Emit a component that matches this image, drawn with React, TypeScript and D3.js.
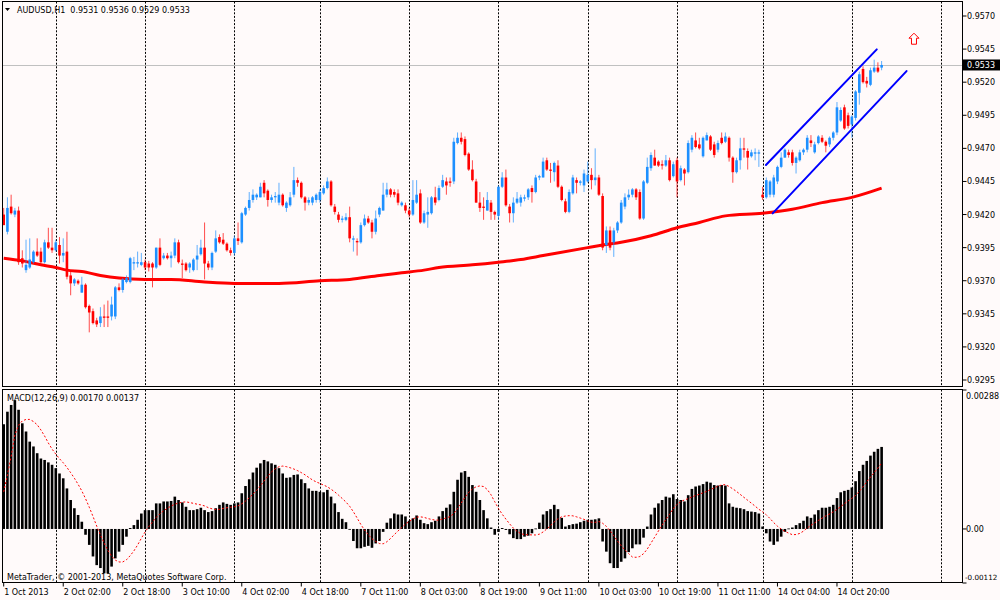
import React from "react";
import * as d3 from "d3";

// ---- AUDUSD H1 candles (prices in pips, value = pips / 10000) ----
const opens = [
  9420, 9407, 9426, 9420, 9423, 9387, 9378, 9380, 9384, 9392,
  9392, 9384, 9399, 9395, 9393, 9397, 9389, 9392, 9374, 9368,
  9370, 9361, 9367, 9351, 9347, 9340, 9338, 9343, 9343, 9343,
  9343, 9365, 9363, 9369, 9369, 9383, 9383, 9382, 9384, 9383,
  9383, 9380, 9395, 9387, 9389, 9387, 9389, 9399, 9383, 9383,
  9380, 9378, 9386, 9390, 9395, 9383, 9380, 9392, 9403, 9401,
  9398, 9393, 9391, 9402, 9399, 9420, 9425, 9431, 9433, 9433,
  9444, 9438, 9431, 9433, 9429, 9435, 9425, 9427, 9435, 9446,
  9444, 9433, 9429, 9429, 9431, 9431, 9436, 9440, 9445, 9426,
  9420, 9416, 9416, 9418, 9401, 9400, 9399, 9412, 9417, 9414,
  9407, 9420, 9423, 9435, 9439, 9437, 9436, 9427, 9427, 9423,
  9420, 9429, 9436, 9414, 9420, 9421, 9433, 9431, 9441, 9445,
  9445, 9445, 9474, 9478, 9477, 9466, 9454, 9445, 9429, 9426,
  9423, 9429, 9422, 9419, 9441, 9448, 9426, 9421, 9429, 9429,
  9432, 9433, 9440, 9437, 9448, 9448, 9461, 9454, 9452, 9457,
  9441, 9430, 9422, 9436, 9446, 9444, 9442, 9445, 9450, 9446,
  9448, 9434, 9397, 9408, 9399, 9408, 9414, 9426, 9433, 9435,
  9439, 9437, 9417, 9444, 9455, 9463, 9460, 9458, 9457, 9461,
  9449, 9461, 9446, 9454, 9452, 9469, 9476, 9473, 9464, 9476,
  9479, 9473, 9469, 9478, 9475, 9478, 9463, 9452, 9461, 9470,
  9468, 9464, 9466, 9466, 9435, 9433, 9435, 9435, 9445, 9456,
  9463, 9467, 9467, 9459, 9461, 9467, 9469, 9476, 9467, 9474,
  9478, 9475, 9473, 9478, 9482, 9491, 9501, 9495, 9488, 9493,
  9512, 9530, 9521, 9518, 9528, 9531, 9531,
];
const highs = [
  9425, 9433, 9435, 9425, 9426, 9393, 9401, 9402, 9393, 9402,
  9395, 9401, 9410, 9410, 9401, 9403, 9402, 9407, 9377, 9372,
  9371, 9373, 9368, 9352, 9349, 9342, 9350, 9352, 9355, 9358,
  9366, 9368, 9372, 9374, 9388, 9388, 9392, 9391, 9386, 9385,
  9384, 9395, 9402, 9391, 9391, 9392, 9402, 9401, 9386, 9384,
  9384, 9387, 9397, 9401, 9414, 9385, 9392, 9408, 9405, 9406,
  9399, 9395, 9404, 9414, 9422, 9426, 9437, 9439, 9436, 9444,
  9446, 9439, 9435, 9437, 9444, 9436, 9430, 9437, 9456, 9448,
  9445, 9434, 9433, 9434, 9436, 9439, 9442, 9448, 9446, 9428,
  9422, 9419, 9421, 9426, 9404, 9402, 9414, 9420, 9419, 9416,
  9423, 9426, 9444, 9444, 9440, 9439, 9439, 9430, 9429, 9425,
  9446, 9446, 9439, 9423, 9433, 9434, 9441, 9442, 9450, 9448,
  9448, 9478, 9482, 9482, 9479, 9467, 9461, 9447, 9437, 9433,
  9437, 9431, 9423, 9442, 9452, 9454, 9428, 9433, 9437, 9435,
  9435, 9440, 9442, 9450, 9450, 9463, 9463, 9459, 9460, 9461,
  9442, 9432, 9439, 9450, 9448, 9446, 9454, 9460, 9455, 9470,
  9450, 9436, 9411, 9411, 9410, 9415, 9431, 9436, 9439, 9440,
  9440, 9439, 9446, 9463, 9467, 9469, 9461, 9461, 9465, 9463,
  9460, 9463, 9457, 9455, 9476, 9480, 9482, 9478, 9479, 9482,
  9480, 9475, 9476, 9482, 9482, 9479, 9464, 9463, 9478, 9478,
  9470, 9469, 9470, 9469, 9441, 9448, 9446, 9450, 9457, 9467,
  9470, 9469, 9469, 9464, 9469, 9470, 9480, 9480, 9475, 9480,
  9480, 9476, 9479, 9483, 9505, 9501, 9503, 9497, 9495, 9514,
  9528, 9532, 9524, 9531, 9537, 9535, 9536,
];
const lows = [
  9412, 9405, 9420, 9418, 9382, 9380, 9376, 9379, 9383, 9388,
  9383, 9383, 9394, 9391, 9392, 9383, 9384, 9371, 9359, 9366,
  9367, 9361, 9349, 9331, 9337, 9335, 9335, 9335, 9335, 9340,
  9341, 9362, 9361, 9368, 9368, 9378, 9380, 9381, 9378, 9377,
  9365, 9379, 9381, 9386, 9386, 9380, 9387, 9383, 9372, 9377,
  9376, 9377, 9378, 9389, 9371, 9378, 9378, 9391, 9398, 9397,
  9392, 9389, 9389, 9397, 9398, 9419, 9423, 9429, 9431, 9433,
  9433, 9426, 9429, 9429, 9427, 9426, 9422, 9426, 9433, 9441,
  9432, 9423, 9427, 9427, 9429, 9429, 9435, 9439, 9426, 9420,
  9414, 9414, 9415, 9399, 9392, 9389, 9398, 9411, 9413, 9402,
  9405, 9418, 9423, 9433, 9433, 9433, 9427, 9426, 9421, 9418,
  9419, 9428, 9413, 9413, 9410, 9420, 9427, 9430, 9440, 9435,
  9441, 9443, 9473, 9473, 9464, 9453, 9445, 9429, 9422, 9416,
  9423, 9416, 9416, 9416, 9440, 9426, 9414, 9414, 9428, 9426,
  9430, 9431, 9429, 9436, 9446, 9448, 9453, 9444, 9445, 9440,
  9430, 9421, 9421, 9435, 9436, 9442, 9437, 9444, 9439, 9442,
  9434, 9393, 9391, 9393, 9388, 9406, 9413, 9424, 9431, 9433,
  9431, 9416, 9416, 9443, 9453, 9457, 9456, 9454, 9456, 9445,
  9448, 9433, 9445, 9442, 9451, 9467, 9470, 9469, 9463, 9476,
  9468, 9463, 9467, 9473, 9474, 9460, 9444, 9451, 9454, 9463,
  9454, 9463, 9461, 9456, 9431, 9432, 9433, 9433, 9443, 9455,
  9463, 9463, 9457, 9451, 9460, 9465, 9467, 9471, 9466, 9473,
  9474, 9467, 9471, 9476, 9480, 9490, 9484, 9485, 9478, 9491,
  9503, 9519, 9516, 9517, 9527, 9527, 9529,
];
const closes = [
  9412, 9425, 9421, 9423, 9384, 9383, 9382, 9386, 9392, 9389,
  9384, 9399, 9395, 9393, 9399, 9389, 9391, 9373, 9368, 9371,
  9368, 9367, 9350, 9346, 9338, 9337, 9343, 9342, 9342, 9352,
  9365, 9363, 9371, 9372, 9387, 9384, 9384, 9384, 9380, 9380,
  9380, 9395, 9382, 9389, 9387, 9389, 9399, 9384, 9382, 9378,
  9383, 9386, 9389, 9395, 9383, 9380, 9391, 9402, 9399, 9398,
  9393, 9391, 9402, 9400, 9421, 9425, 9431, 9435, 9435, 9441,
  9436, 9431, 9433, 9434, 9435, 9427, 9429, 9433, 9446, 9444,
  9433, 9429, 9431, 9433, 9435, 9437, 9440, 9445, 9427, 9422,
  9416, 9417, 9418, 9402, 9402, 9399, 9412, 9417, 9414, 9407,
  9417, 9425, 9435, 9439, 9435, 9435, 9429, 9429, 9423, 9420,
  9431, 9435, 9414, 9421, 9422, 9433, 9429, 9440, 9446, 9442,
  9444, 9475, 9478, 9475, 9465, 9454, 9446, 9429, 9425, 9425,
  9431, 9422, 9420, 9441, 9448, 9427, 9421, 9429, 9432, 9433,
  9433, 9439, 9437, 9448, 9449, 9460, 9454, 9453, 9459, 9441,
  9431, 9422, 9437, 9448, 9444, 9445, 9451, 9450, 9446, 9448,
  9435, 9395, 9408, 9395, 9408, 9414, 9429, 9433, 9435, 9439,
  9433, 9417, 9445, 9456, 9465, 9457, 9457, 9457, 9461, 9446,
  9458, 9445, 9455, 9451, 9474, 9478, 9471, 9470, 9478, 9480,
  9469, 9465, 9474, 9474, 9479, 9463, 9452, 9461, 9470, 9469,
  9463, 9467, 9467, 9467, 9433, 9446, 9445, 9448, 9456, 9463,
  9469, 9465, 9459, 9463, 9467, 9469, 9478, 9474, 9473, 9479,
  9475, 9472, 9478, 9482, 9501, 9499, 9485, 9487, 9494, 9513,
  9526, 9520, 9519, 9529, 9531, 9528, 9533,
];

// ---- red moving average (sampled: bar index, price in pips) ----
const maBars = [0, 5, 10, 14, 17, 21, 26, 31, 38, 45, 54, 62, 74, 85, 93, 101, 107, 113, 117, 126, 133, 139, 145, 157, 161, 166, 174, 181, 187, 194, 204, 212, 220, 228, 236];
const maValues = [9387, 9385, 9382, 9380, 9378, 9377, 9374, 9372, 9371, 9371, 9369, 9368, 9368, 9370, 9371, 9374, 9376, 9378, 9380, 9382, 9384, 9386, 9389, 9395, 9397, 9399, 9404, 9410, 9414, 9419, 9421, 9424, 9429, 9433, 9440];

// ---- MACD(12,26,9) main values, in units of 0.00001 ----
const macdMain = [
  217, 243, 257, 267, 247, 219, 202, 181, 171, 157,
  146, 143, 138, 133, 126, 115, 105, 84, 60, 43,
  29, 15, -12, -33, -57, -75, -81, -92, -92, -78,
  -61, -47, -33, -16, 2, 8, 19, 32, 39, 39,
  39, 53, 53, 57, 57, 58, 67, 60, 55, 46,
  39, 39, 41, 44, 39, 35, 37, 43, 50, 55,
  52, 50, 53, 55, 74, 89, 103, 117, 127, 136,
  143, 140, 136, 133, 126, 115, 106, 107, 112, 113,
  103, 95, 84, 79, 79, 77, 76, 81, 67, 53,
  35, 21, 14, -1, -25, -40, -40, -37, -35, -39,
  -30, -25, -6, 13, 22, 32, 30, 30, 26, 17,
  22, 28, 19, 12, 10, 14, 17, 26, 37, 44,
  51, 77, 102, 117, 120, 108, 91, 77, 60, 39,
  22, 3, -12, -6, 2, -2, -11, -19, -21, -21,
  -16, -14, -9, 1, 13, 30, 37, 41, 50, 41,
  23, 5, 8, 10, 11, 14, 17, 19, 19, 20,
  22, -26, -47, -71, -81, -81, -68, -61, -48, -40,
  -32, -32, -18, 5, 30, 44, 53, 60, 67, 65,
  72, 62, 60, 57, 70, 83, 88, 90, 93, 98,
  96, 91, 90, 91, 90, 53, 46, 44, 43, 41,
  37, 36, 35, 32, 5, -9, -26, -33, -26, -16,
  -6, 1, 3, 8, 12, 17, 26, 23, 30, 39,
  44, 44, 46, 50, 64, 76, 79, 81, 86, 99,
  120, 133, 141, 152, 160, 166, 170,
];
// signal line for the first bars (its 9-bar window begins before the visible data)
const signalHead = [77, 112, 150, 195, 215, 224, 227, 227];
const SIGNAL_PERIOD = 9;

// ---- axes ----
const priceTicks = [0.957, 0.9545, 0.952, 0.9495, 0.947, 0.9445, 0.942, 0.9395, 0.937, 0.9345, 0.932, 0.9295];
const macdTicks = [0.00288, 0, -0.00112];
const macdTickText = ["0.00288", "0.00", "-0.00112"];
const timeLabelBars = [0, 16, 32, 48, 64, 80, 96, 112, 128, 144, 160, 176, 192, 208, 224];
const timeLabels = ["1 Oct 2013", "2 Oct 02:00", "2 Oct 18:00", "3 Oct 10:00", "4 Oct 02:00", "4 Oct 18:00", "7 Oct 11:00", "8 Oct 03:00", "8 Oct 19:00", "9 Oct 11:00", "10 Oct 03:00", "10 Oct 19:00", "11 Oct 11:00", "14 Oct 04:00", "14 Oct 20:00"];
const dayStartBars = [14, 38, 62, 85, 109, 133, 157, 181, 204, 228, 252];

// ---- drawn objects (bar index, price) ----
const channelUpper = [[204.9, 0.94574], [234.7, 0.95448]];
const channelLower = [[206.7, 0.94209], [242.7, 0.95284]];
const arrowMark = [244.7, 0.9557];
const bidPrice = 0.9533;
const headerText = "AUDUSD,H1  0.9531 0.9536 0.9529 0.9533";
const macdText = "MACD(12,26,9) 0.00170 0.00137";
const copyright = "MetaTrader, \u00A9 2001-2013, MetaQuotes Software Corp.";

const BULL = "#1E90FF";
const BEAR = "#FF0000";
const BG = "#FFFAFA";
const FONT = "'DejaVu Sans', Tahoma, sans-serif";

export default function App() {
  const n = closes.length;
  const x = d3.scaleLinear().domain([0, n - 1]).range([3.7, 3.7 + (n - 1) * 3.72]);
  const y = d3.scaleLinear().domain([0.9295, 0.957]).range([380, 16]);
  const ym = d3.scaleLinear().domain([-0.00112, 0.00288]).range([583, 390]);
  const P = (v: number) => v / 10000;
  const M = (v: number) => v / 100000;

  const L = 2.5, R = 962.5, T = 1.5, B = 386.5, MT = 389.5, MB = 582.5;

  const maLine = d3
    .line<[number, number]>()
    .x((d) => x(d[0]))
    .y((d) => y(P(d[1])))
    .curve(d3.curveMonotoneX)(maBars.map((b, i) => [b, maValues[i]]) as [number, number][]);

  const signal = macdMain.map((v, i) =>
    i < SIGNAL_PERIOD - 1 ? signalHead[i] : (d3.mean(macdMain.slice(i - SIGNAL_PERIOD + 1, i + 1)) as number)
  );
  const sigLine = d3
    .line<number>()
    .x((_, i) => x(i))
    .y((d) => ym(M(d)))(signal);

  const zeroY = ym(0);
  const axp = x(arrowMark[0]);
  const ayp = y(arrowMark[1]);

  return (
    <svg
      width={1000}
      height={600}
      viewBox="0 0 1000 600"
      style={{ position: "absolute", left: 0, top: 0, display: "block" }}
      fontFamily={FONT}
      fontSize={8}
    >
      <rect x={0} y={0} width={1000} height={600} fill={BG} />
      <defs>
        <clipPath id="mainClip">
          <rect x={L} y={T} width={R - L} height={B - T} />
        </clipPath>
        <clipPath id="macdClip">
          <rect x={L} y={MT} width={R - L} height={MB - MT} />
        </clipPath>
      </defs>

      {/* vertical day grid */}
      {dayStartBars.map((b) => {
        const gx = Math.round(x(b)) + 0.5;
        return (
          <g key={"g" + b}>
            <line x1={gx} x2={gx} y1={T} y2={B} stroke="#000" strokeWidth={1} strokeDasharray="2,1.6" />
            <line x1={gx} x2={gx} y1={MT} y2={MB} stroke="#000" strokeWidth={1} strokeDasharray="2,1.6" />
          </g>
        );
      })}

      <g clipPath="url(#mainClip)">
        {/* bid line */}
        <line x1={L} x2={R} y1={Math.round(y(bidPrice)) + 0.5} y2={Math.round(y(bidPrice)) + 0.5} stroke="#C0C0C0" strokeWidth={1} />
        {/* moving average */}
        <path d={maLine || ""} fill="none" stroke="#FF0000" strokeWidth={3} strokeLinejoin="round" />
        {/* candles */}
        {closes.map((c, i) => {
          const o = opens[i];
          const up = c >= o;
          const col = up ? BULL : BEAR;
          const cx = x(i);
          const yo = y(P(o));
          const yc = y(P(c));
          const top = Math.min(yo, yc);
          const h = Math.max(1, Math.abs(yo - yc));
          return (
            <g key={"c" + i}>
              <line x1={cx} x2={cx} y1={y(P(highs[i]))} y2={y(P(lows[i]))} stroke={col} strokeOpacity={0.7} strokeWidth={1} />
              <rect x={cx - 1.3} y={top} width={2.6} height={h} fill={col} />
            </g>
          );
        })}
        {/* channel */}
        {[channelUpper, channelLower].map((ln, k) => (
          <line
            key={"ch" + k}
            x1={x(ln[0][0])}
            y1={y(ln[0][1])}
            x2={x(ln[1][0])}
            y2={y(ln[1][1])}
            stroke="#0000FF"
            strokeWidth={2}
            strokeLinecap="round"
          />
        ))}
        {/* arrow object */}
        <path
          d={`M${axp},${ayp} l5,5 h-2.5 v6 h-5 v-6 h-2.5 Z`}
          fill="#FFFFFF"
          stroke="#FF0000"
          strokeWidth={1}
          strokeLinejoin="miter"
        />
      </g>

      {/* header */}
      <path d="M5,8 L10,8 L7.5,11 Z" fill="#000" />
      <text x={17} y={12.5} fill="#000" style={{ whiteSpace: "pre" }}>
        {headerText}
      </text>

      {/* MACD */}
      <g clipPath="url(#macdClip)">
        {macdMain.map((v, i) => {
          const yv = ym(M(v));
          return (
            <rect
              key={"h" + i}
              x={x(i) - 1.3}
              y={Math.min(yv, zeroY)}
              width={2.6}
              height={Math.max(0.8, Math.abs(yv - zeroY))}
              fill="#000"
            />
          );
        })}
        <path d={sigLine || ""} fill="none" stroke="#FF0000" strokeWidth={1} strokeDasharray="2,2" />
      </g>
      <text x={7} y={401} fill="#000">{macdText}</text>
      <text x={7} y={580} fill="#000">{copyright}</text>

      {/* frames */}
      <rect x={L} y={T} width={R - L} height={B - T} fill="none" stroke="#000" strokeWidth={1} />
      <rect x={L} y={MT} width={R - L} height={MB - MT} fill="none" stroke="#000" strokeWidth={1} />

      {/* price axis */}
      {priceTicks.map((p) => {
        const py = y(p);
        return (
          <g key={"p" + p}>
            <line x1={R} x2={R + 4} y1={py} y2={py} stroke="#000" />
            <text x={967} y={py + 3} fill="#000">{p.toFixed(4)}</text>
          </g>
        );
      })}
      {/* bid label */}
      <rect x={R} y={y(bidPrice) - 5.5} width={1000 - R} height={11} fill="#000" />
      <text x={967} y={y(bidPrice) + 3} fill="#FFFFFF">{bidPrice.toFixed(4)}</text>

      {/* macd axis */}
      {macdTicks.map((v, k) => {
        const py = ym(v);
        const ty = Math.min(Math.max(py, 396), 577);
        const txt = macdTickText[k];
        const long = txt.length > 7;
        return (
          <g key={"m" + k}>
            <line x1={R} x2={R + 4} y1={py} y2={py} stroke="#000" />
            <text x={long ? 965 : 966} y={ty + 3} fill="#000" fontSize={long ? 7.2 : 8}>
              {txt}
            </text>
          </g>
        );
      })}

      {/* time axis */}
      {timeLabelBars.map((b, k) => {
        const tx = x(b);
        return (
          <g key={"t" + b}>
            <line x1={tx} x2={tx} y1={MB} y2={MB + 4} stroke="#000" />
            <text x={tx + 0.5} y={595} fill="#000">{timeLabels[k]}</text>
          </g>
        );
      })}
    </svg>
  );
}
